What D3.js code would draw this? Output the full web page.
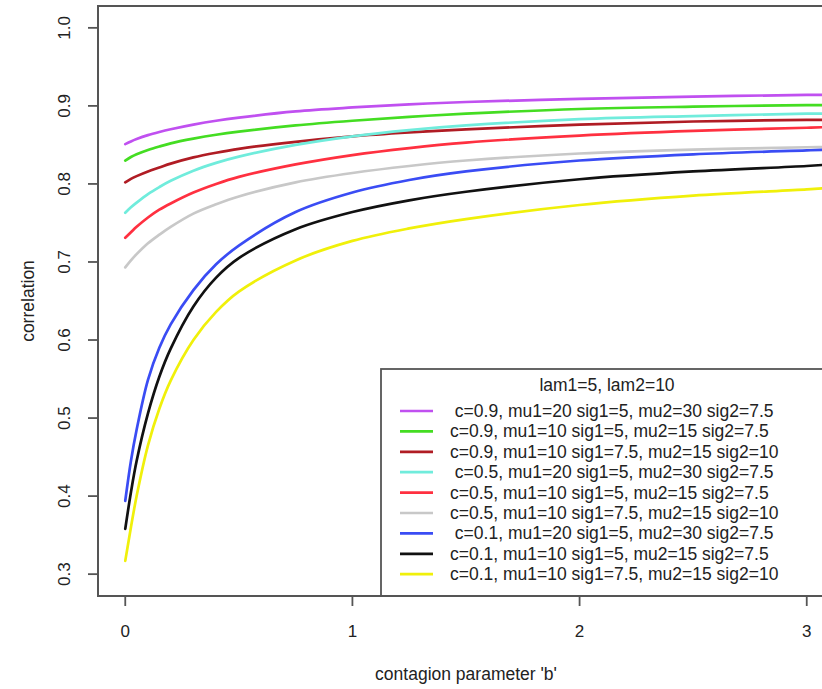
<!DOCTYPE html>
<html>
<head>
<meta charset="utf-8">
<script src="https://cdn.jsdelivr.net/npm/d3@7"></script>
<style>
  html, body { margin: 0; padding: 0; background: #fff; overflow: hidden; }
  svg { display: block; font-family: "Liberation Sans", Arial, sans-serif; }
</style>
</head>
<body>
<svg id="chart" width="822" height="689"></svg>
<script>
// ---- data ----
const bValues = [0, 0.025, 0.05, 0.1, 0.15, 0.2, 0.3, 0.4, 0.5, 0.75, 1, 1.25, 1.5, 2, 2.5, 3, 3.1];

const seriesLabels = [
  " c=0.9, mu1=20 sig1=5, mu2=30 sig2=7.5",
  "c=0.9, mu1=10 sig1=5, mu2=15 sig2=7.5",
  "c=0.9, mu1=10 sig1=7.5, mu2=15 sig2=10",
  " c=0.5, mu1=20 sig1=5, mu2=30 sig2=7.5",
  "c=0.5, mu1=10 sig1=5, mu2=15 sig2=7.5",
  "c=0.5, mu1=10 sig1=7.5, mu2=15 sig2=10",
  " c=0.1, mu1=20 sig1=5, mu2=30 sig2=7.5",
  "c=0.1, mu1=10 sig1=5, mu2=15 sig2=7.5",
  "c=0.1, mu1=10 sig1=7.5, mu2=15 sig2=10"
];
const seriesColors = ["#c050f0", "#44dd22", "#b01c24", "#70ecdc", "#ff3040", "#c8c8c8", "#3a4cf4", "#111111", "#f0f00a"];

const magenta = [.851, .8545, .8575, .8625, .8665, .870, .876, .881, .885, .893, .898, .902, .905, .909, .912, .914, .914];
const green   = [.830, .8345, .838, .8435, .848, .852, .858, .863, .867, .875, .881, .886, .890, .896, .899, .901, .901];
const darkred = [.802, .8065, .810, .816, .821, .826, .834, .840, .845, .854, .861, .866, .870, .876, .880, .882, .882];
const cyan    = [.763, .770, .776, .787, .796, .804, .817, .827, .835, .850, .861, .869, .875, .883, .887, .890, .890];
const red     = [.731, .738, .745, .757, .767, .775, .789, .800, .809, .825, .837, .846, .853, .862, .868, .872, .873];
const gray    = [.693, .702, .710, .724, .735, .745, .762, .774, .784, .802, .814, .823, .830, .839, .844, .847, .847];
const blue    = [.394, .445, .485, .549, .590, .620, .664, .697, .721, .764, .789, .805, .816, .830, .838, .843, .844];
const black   = [.358, .405, .445, .506, .553, .589, .643, .680, .705, .742, .764, .779, .790, .806, .816, .823, .825];
const yellow  = [.317, .360, .400, .465, .512, .548, .600, .636, .662, .702, .727, .743, .755, .773, .785, .793, .795];
const seriesValues = [magenta, green, darkred, cyan, red, gray, blue, black, yellow];

const xTicks = [0, 1, 2, 3];
const yTicks = [0.3, 0.4, 0.5, 0.6, 0.7, 0.8, 0.9, 1.0];
const xDomain = [0, 3];
const yDomain = [0.3, 1.0];
const legendTitle = "lam1=5, lam2=10";
const xTitle = "contagion parameter 'b'";
const yTitle = "correlation";

// ---- layout ----
const svg = d3.select("#chart");
const plot = { left: 98, top: 6, right: 834, bottom: 596 };
const pad = 0.04;
const xs = d3.scaleLinear()
  .domain([xDomain[0] - pad * (xDomain[1] - xDomain[0]), xDomain[1] + pad * (xDomain[1] - xDomain[0])])
  .range([plot.left, plot.right]);
const ys = d3.scaleLinear()
  .domain([yDomain[0] - pad * (yDomain[1] - yDomain[0]), yDomain[1] + pad * (yDomain[1] - yDomain[0])])
  .range([plot.bottom, plot.top]);

const axisColor = "#555";
const textColor = "#222";

svg.append("clipPath").attr("id", "clip")
  .append("rect")
  .attr("x", plot.left).attr("y", plot.top)
  .attr("width", plot.right - plot.left).attr("height", plot.bottom - plot.top);

// curves
const line = d3.line().x(d => xs(d[0])).y(d => ys(d[1])).curve(d3.curveCatmullRom.alpha(0.5));
const gLines = svg.append("g").attr("clip-path", "url(#clip)");
seriesValues.forEach((vals, i) => {
  gLines.append("path")
    .datum(bValues.map((b, j) => [b, vals[j]]))
    .attr("d", line)
    .attr("fill", "none")
    .attr("stroke", seriesColors[i])
    .attr("stroke-width", 2.7)
    .attr("stroke-linejoin", "round")
    .attr("stroke-linecap", "round");
});

// legend
const legX = 381, legY = 369;
const leg = svg.append("g");
leg.append("rect")
  .attr("x", legX).attr("y", legY)
  .attr("width", 500).attr("height", plot.bottom - legY)
  .attr("fill", "#fff").attr("stroke", axisColor).attr("stroke-width", 1.8);
leg.append("text")
  .attr("x", 607).attr("y", legY + 22)
  .attr("text-anchor", "middle")
  .attr("font-size", 17.5).attr("fill", textColor)
  .text(legendTitle);
seriesLabels.forEach((lab, i) => {
  const cy = legY + 42 + i * 20.4;
  leg.append("line")
    .attr("x1", 400).attr("x2", 433).attr("y1", cy).attr("y2", cy)
    .attr("stroke", seriesColors[i]).attr("stroke-width", 2.7);
  leg.append("text")
    .attr("x", 450).attr("y", cy + 6)
    .attr("font-size", 17.5).attr("fill", textColor)
    .style("white-space", "pre")
    .attr("xml:space", "preserve")
    .text(lab);
});

// frame (box)
svg.append("rect")
  .attr("x", plot.left).attr("y", plot.top)
  .attr("width", plot.right - plot.left).attr("height", plot.bottom - plot.top)
  .attr("fill", "none").attr("stroke", axisColor).attr("stroke-width", 2);

// y axis ticks
const yAxisG = svg.append("g");
yTicks.forEach(t => {
  yAxisG.append("line")
    .attr("x1", plot.left - 10).attr("x2", plot.left)
    .attr("y1", ys(t)).attr("y2", ys(t))
    .attr("stroke", axisColor).attr("stroke-width", 1.8);
  yAxisG.append("text")
    .attr("transform", `translate(70,${ys(t)}) rotate(-90)`)
    .attr("text-anchor", "middle")
    .attr("font-size", 17).attr("fill", textColor)
    .text(d3.format(".1f")(t));
});

// x axis ticks
const xAxisG = svg.append("g");
xTicks.forEach(t => {
  xAxisG.append("line")
    .attr("x1", xs(t)).attr("x2", xs(t))
    .attr("y1", plot.bottom).attr("y2", plot.bottom + 10)
    .attr("stroke", axisColor).attr("stroke-width", 1.8);
  xAxisG.append("text")
    .attr("x", xs(t)).attr("y", 637)
    .attr("text-anchor", "middle")
    .attr("font-size", 17).attr("fill", textColor)
    .text(d3.format("d")(t));
});

// titles
svg.append("text")
  .attr("x", (plot.left + plot.right) / 2).attr("y", 680)
  .attr("text-anchor", "middle")
  .attr("font-size", 17.5).attr("fill", textColor)
  .text(xTitle);
svg.append("text")
  .attr("transform", `translate(34,${(plot.top + plot.bottom) / 2}) rotate(-90)`)
  .attr("text-anchor", "middle")
  .attr("font-size", 17.5).attr("fill", textColor)
  .text(yTitle);
</script>
</body>
</html>
